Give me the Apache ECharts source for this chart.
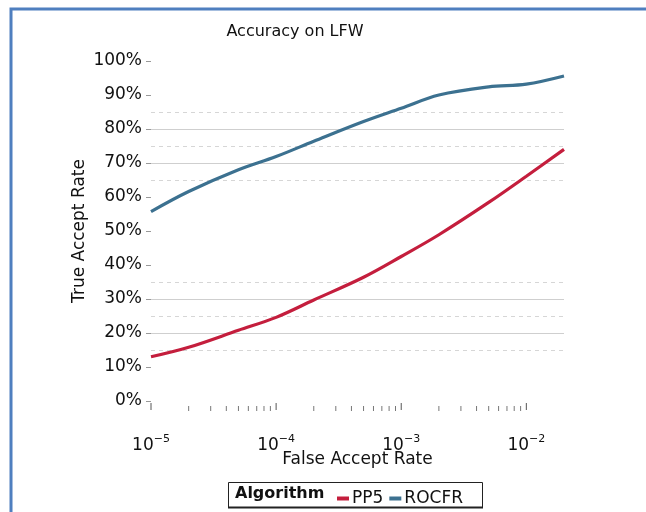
<!DOCTYPE html>
<html>
<head>
<meta charset="utf-8">
<script src="https://cdn.jsdelivr.net/npm/echarts@6/dist/echarts.min.js"></script>
<style>
  html, body { margin: 0; padding: 0; background: #fff; }
  #chart { width: 646px; height: 512px; }
</style>
</head>
<body>
<div id="chart"></div>
<script>
// ---- data ----
const farValues = [1e-5, 2e-5, 5e-5, 1e-4, 2e-4, 5e-4, 1e-3, 2e-3, 5e-3, 1e-2, 2e-2];
const pp5Values = [13.0, 15.8, 20.8, 24.6, 29.7, 36.4, 42.5, 48.9, 58.4, 66.1, 74.0];
const rocfrValues = [55.7, 61.6, 68.0, 71.9, 76.4, 82.2, 86.1, 90.0, 92.4, 93.2, 95.6];
const seriesNames = ['PP5', 'ROCFR'];
const majorTicks = [1e-5, 1e-4, 1e-3, 1e-2];
const minorTicks = [2e-5, 3e-5, 4e-5, 5e-5, 6e-5, 7e-5, 8e-5, 9e-5,
                    2e-4, 3e-4, 4e-4, 5e-4, 6e-4, 7e-4, 8e-4, 9e-4,
                    2e-3, 3e-3, 4e-3, 5e-3, 6e-3, 7e-3, 8e-3, 9e-3];
const solidGrid = [20, 30, 70, 80];
const dashedGrid = [15, 25, 35, 65, 75, 85];

const FONT = 'DejaVu Sans';
const chart = echarts.init(document.getElementById('chart'), null, { renderer: 'canvas' });

function supLabel(v) {
  const e = Math.log10(v);
  if (Math.abs(e - Math.round(e)) > 1e-6) return '';
  return '{b|10}{s|\u2212' + Math.abs(Math.round(e)) + '}';
}

const gridMarks = solidGrid.map(v => ({ yAxis: v, lineStyle: { type: 'solid', color: '#cfcfcf', width: 1 } }))
  .concat(dashedGrid.map(v => ({ yAxis: v, lineStyle: { type: [4, 4], color: '#d6d6d6', width: 1 } })));

const tickData = majorTicks.map(v => [v, 0, 1]).concat(minorTicks.map(v => [v, 0, 0]));

chart.setOption({
  animation: false,
  backgroundColor: '#ffffff',
  title: {
    text: 'Accuracy on LFW',
    left: 290, top: 19, textAlign: 'center',
    textStyle: { fontFamily: FONT, fontSize: 16, fontWeight: 'normal', color: '#111' }
  },
  grid: { left: 151, right: 82, top: 61, bottom: 111 },
  xAxis: {
    type: 'log', logBase: 10, min: 1e-5, max: 2e-2,
    name: 'False Accept Rate', nameLocation: 'middle', nameGap: 50, nameMoveOverlap: false,
    nameTextStyle: { fontFamily: FONT, fontSize: 17, color: '#111' },
    axisLine: { show: false }, axisTick: { show: false }, splitLine: { show: false },
    axisLabel: {
      margin: 33, formatter: supLabel, showMaxLabel: false,
      rich: {
        b: { fontFamily: FONT, fontSize: 17, color: '#111', lineHeight: 24 },
        s: { fontFamily: FONT, fontSize: 11, color: '#111', lineHeight: 6, verticalAlign: 'top' }
      }
    }
  },
  yAxis: {
    type: 'value', min: 0, max: 100, interval: 10,
    name: 'True Accept Rate', nameLocation: 'middle', nameGap: 63, nameMoveOverlap: false,
    nameTextStyle: { fontFamily: FONT, fontSize: 17, color: '#111' },
    axisLine: { show: false },
    axisTick: { show: true, length: 5, lineStyle: { color: '#999', width: 1 } },
    splitLine: { show: false },
    axisLabel: { margin: 9, formatter: '{value}%', fontFamily: FONT, fontSize: 17, color: '#111' }
  },
  legend: {
    left: 332, top: 485, icon: 'rect', itemWidth: 12, itemHeight: 4, itemGap: 6,
    data: seriesNames,
    textStyle: { fontFamily: FONT, fontSize: 17, color: '#111', padding: [0, 0, 0, -2] }
  },
  graphic: [
    { type: 'polyline', silent: true, shape: { points: [[11, 512], [11, 9], [646, 9]] },
      style: { stroke: '#4f7fbf', lineWidth: 3, fill: null } },
    { type: 'rect', silent: true, shape: { x: 228.5, y: 482.5, width: 254, height: 25 },
      style: { stroke: '#222', lineWidth: 1, fill: null } },
    { type: 'line', silent: true, shape: { x1: 228, y1: 507.5, x2: 483, y2: 507.5 },
      style: { stroke: '#222', lineWidth: 2 } },
    { type: 'text', silent: true, left: 235, top: 486,
      style: { text: 'Algorithm', font: 'bold 16px "' + FONT + '"', fill: '#111' } }
  ],
  series: [
    {
      name: seriesNames[0], type: 'line', smooth: 0.35, showSymbol: false,
      color: '#c41e3d', lineStyle: { width: 3.2, color: '#c41e3d' }, z: 5,
      data: farValues.map((x, i) => [x, pp5Values[i]]),
      markLine: { silent: true, symbol: 'none', label: { show: false }, data: gridMarks, z: 1 }
    },
    {
      name: seriesNames[1], type: 'line', smooth: 0.35, showSymbol: false,
      color: '#3c7190', lineStyle: { width: 3.2, color: '#3c7190' }, z: 5,
      data: farValues.map((x, i) => [x, rocfrValues[i]])
    },
    {
      name: 'ticks', type: 'custom', silent: true, clip: false, z: 2,
      data: tickData,
      renderItem: function (params, api) {
        const p = api.coord([api.value(0), api.value(1)]);
        const major = api.value(2) === 1;
        return {
          type: 'line',
          shape: { x1: p[0], y1: p[1] + (major ? 2 : 5), x2: p[0], y2: p[1] + (major ? 9 : 10) },
          style: { stroke: major ? '#555' : '#777', lineWidth: 1 }
        };
      }
    }
  ]
});
</script>
</body>
</html>
